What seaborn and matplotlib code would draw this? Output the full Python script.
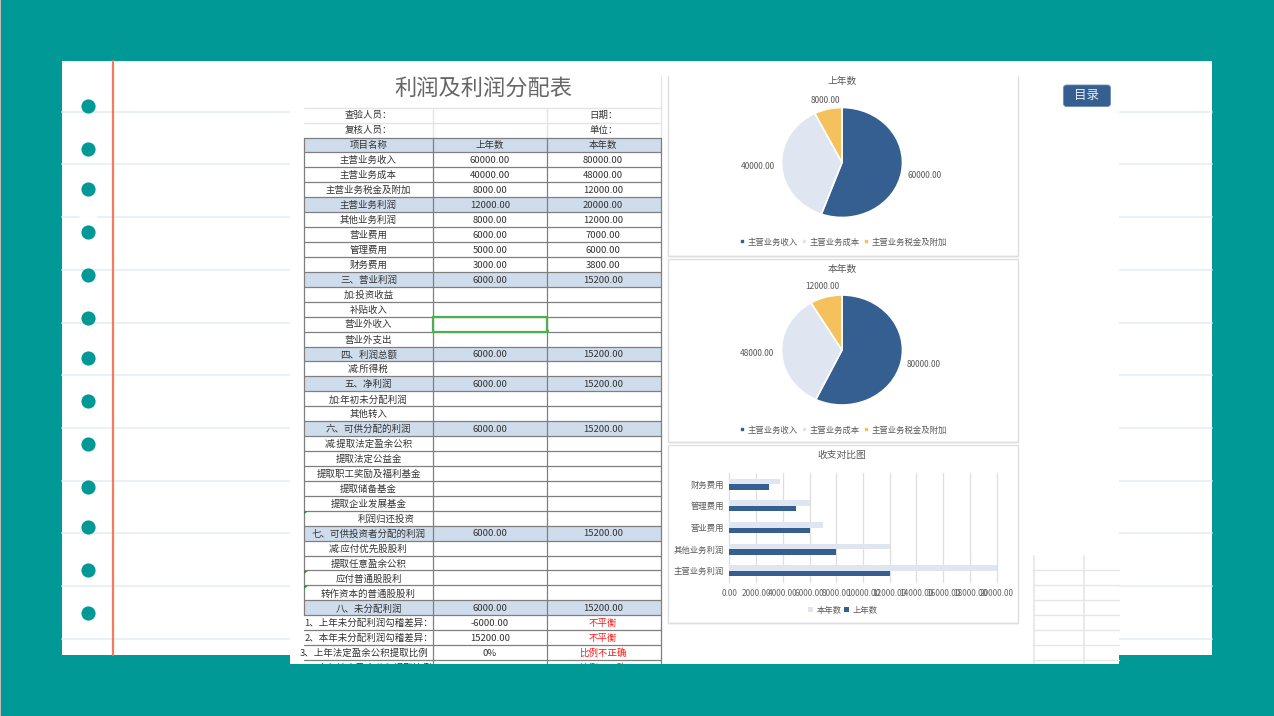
import matplotlib
matplotlib.use("Agg")
import matplotlib.pyplot as plt
from matplotlib.patches import FancyBboxPatch, Rectangle
import numpy as np
import pandas as pd
import seaborn as sns

# table content
row_names = ['项目名称', '主营业务收入', '主营业务成本', '主营业务税金及附加', '主营业务利润', '其他业务利润',
             '营业费用', '管理费用', '财务费用', '三、营业利润', '加:投资收益', '补贴收入', '营业外收入',
             '营业外支出', '四、利润总额', '减:所得税', '五、净利润', '加:年初未分配利润', '其他转入',
             '六、可供分配的利润', '减:提取法定盈余公积', '提取法定公益金', '提取职工奖励及福利基金',
             '提取储备基金', '提取企业发展基金', '利润归还投资', '七、可供投资者分配的利润', '减:应付优先股股利',
             '提取任意盈余公积', '应付普通股股利', '转作资本的普通股股利', '八、未分配利润',
             '1、上年未分配利润勾稽差异：', '2、本年未分配利润勾稽差异：', '3、上年法定盈余公积提取比例',
             '4、本年法定盈余公积提取比例']
last_year = ['上年数', '60000.00', '40000.00', '8000.00', '12000.00', '8000.00', '6000.00', '5000.00', '3000.00',
             '6000.00', '', '', '', '', '6000.00', '', '6000.00', '', '', '6000.00', '', '', '', '', '', '',
             '6000.00', '', '', '', '', '6000.00', '-6000.00', '15200.00', '0%', '']
this_year = ['本年数', '80000.00', '48000.00', '12000.00', '20000.00', '12000.00', '7000.00', '6000.00', '3800.00',
             '15200.00', '', '', '', '', '15200.00', '', '15200.00', '', '', '15200.00', '', '', '', '', '', '',
             '15200.00', '', '', '', '', '15200.00', '不平衡', '不平衡', '比例不正确', '比例不正确']
shaded_rows = [0, 4, 9, 14, 16, 19, 26, 31]
red_rows = [32, 33, 34, 35]
note_rows = [25, 29, 30]

# charts
pie_categories = ['主营业务收入', '主营业务成本', '主营业务税金及附加']
pie_last = [60000, 40000, 8000]
pie_this = [80000, 48000, 12000]
bar_categories = ['财务费用', '管理费用', '营业费用', '其他业务利润', '主营业务利润']
bar_this = [3800, 6000, 7000, 12000, 20000]
bar_last = [3000, 5000, 6000, 8000, 12000]
bar_ticks = [0, 2000, 4000, 6000, 8000, 10000, 12000, 14000, 16000, 18000, 20000]

TEAL = '#009995'
BLUE = '#355F91'
PALE = '#DFE6F1'
YELLOW = '#F4C15D'
GREY = '#595959'
W, H = 1274, 716

sns.set_theme(style='white')
plt.rcParams['font.family'] = ['Noto Sans CJK SC', 'DejaVu Sans']

fig = plt.figure(figsize=(W / 100, H / 100), dpi=100, facecolor=TEAL)


def px_axes(x0, y0, x1, y1):
    return fig.add_axes([x0 / W, 1 - y1 / H, (x1 - x0) / W, (y1 - y0) / H])


# whole figure in pixel coordinates
bg = px_axes(0, 0, W, H)
bg.set_xlim(0, W)
bg.set_ylim(H, 0)
bg.axis('off')

# notebook page
bg.add_patch(Rectangle((0, 0), 1.2, H, color='#BDBDBD', lw=0))
bg.add_patch(Rectangle((62, 61), 1150, 594, color='white', lw=0))
for i in range(11):
    y = 111.7 + 52.7 * i
    bg.plot([62, 1212], [y, y], color='#E3EFF6', lw=1.2, zorder=1)
bg.plot([80, 96], [217, 217], color='white', lw=2, zorder=1.1)
bg.plot([112.7, 112.7], [61, 655], color='#F47C5E', lw=1.6, zorder=1.2)
for y in [106, 149, 189, 232, 275, 318, 358, 401, 444, 487, 527, 570, 613]:
    bg.plot(88, y, 'o', ms=10.2, color=TEAL, mew=0, zorder=1.3)

# screenshot of the sheet on top of the page
bg.add_patch(Rectangle((290, 61), 829, 603, color='white', lw=0, zorder=2))
bg.add_patch(Rectangle((290, 664), 829, 52, color=TEAL, lw=0, zorder=10))

# sheet grid on the right
for y in [570, 585, 600, 615, 630, 645, 659.5]:
    bg.plot([1034, 1119], [y, y], color='#E6E6E6', lw=1, zorder=2.1)
for x in [1034, 1084]:
    bg.plot([x, x], [556, 664], color='#E6E6E6', lw=1.2, zorder=2.1)

# table
col_x = [304, 433, 547, 661]
col_mid = [368.5, 490, 604]
top = 137.5
row_h = 14.93
name_shift = {25: 18, 34: -4}

bg.text(483, 88, '利润及利润分配表', fontsize=16, color='#666666', ha='center', va='center', zorder=3)
for y in [107.5, 122.5]:
    bg.plot([304, 661], [y, y], color='#E4E4E4', lw=1, zorder=2.2)
for x in col_x[1:]:
    bg.plot([x, x], [107.5, top], color='#E4E4E4', lw=1, zorder=2.2)
bg.plot([661, 661], [76, 107.5], color='#E4E4E4', lw=1, zorder=2.2)
for y, left, right in [(115.8, '查验人员：', '日期：'), (130.8, '复核人员：', '单位：')]:
    bg.text(col_mid[0], y, left, fontsize=6.8, color='#333333', ha='center', va='center', zorder=3)
    bg.text(col_mid[2], y, right, fontsize=6.8, color='#333333', ha='center', va='center', zorder=3)

for i, name in enumerate(row_names):
    y0 = top + i * row_h
    if i in shaded_rows:
        bg.add_patch(Rectangle((304, y0), 357, row_h, color='#CFDCEB', lw=0, zorder=2.2))
    bg.plot([304, 661], [y0, y0], color='#7F7F7F', lw=0.9, zorder=2.4)
    ymid = y0 + row_h / 2 + 0.8
    xname = col_mid[0] + name_shift.get(i, 0)
    bg.text(xname, ymid, name, fontsize=6.8, color='#333333', ha='center', va='center', zorder=3)
    color = '#FF1A1A' if i in red_rows else '#333333'
    bg.text(col_mid[1], ymid, last_year[i], fontsize=6.8, color='#333333', ha='center', va='center', zorder=3)
    bg.text(col_mid[2] - 1, ymid, this_year[i], fontsize=6.8, color=color, ha='center', va='center', zorder=3)
    if i in note_rows:
        bg.fill([304, 308, 304], [y0 + 0.5, y0 + 0.5, y0 + 3.5], color='#2E8B3A', lw=0, zorder=3)

bottom = top + len(row_names) * row_h
for x in col_x[1:]:
    bg.plot([x, x], [top, bottom], color='#7F7F7F', lw=0.9, zorder=2.4)
bg.plot([304, 304], [top, top + 32 * row_h], color='#7F7F7F', lw=0.9, zorder=2.4)

# selected cell
y_sel = top + 12 * row_h
bg.add_patch(Rectangle((433, y_sel), 114, row_h, fill=False, ec='#4CAF50', lw=1.6, zorder=3))
bg.add_patch(Rectangle((545.5, y_sel + row_h - 1.5), 3, 3, color='#4CAF50', lw=0, zorder=3.1))

# chart frames
for y0, y1 in [(76, 255.5), (258.5, 442), (444.5, 623)]:
    bg.plot([667.5, 667.5, 1018, 1018], [y0, y1, y1, y0], color='#DEDEDE', lw=1, zorder=2.2)
    bg.plot([667.5, 1018], [y1, y1], color='#DEDEDE', lw=1, zorder=2.2)
bg.plot([667.5, 1018], [258.5, 258.5], color='#DEDEDE', lw=1, zorder=2.2)
bg.plot([667.5, 1018], [444.5, 444.5], color='#DEDEDE', lw=1, zorder=2.2)

# button
bg.add_patch(FancyBboxPatch((1063.5, 85), 47, 21.5, boxstyle='round,pad=0,rounding_size=3',
                            fc=BLUE, ec='#6C8CB2', lw=0.6, zorder=3))
bg.text(1087, 95.5, '目录', fontsize=9, color='#E8EEF5', ha='center', va='center', zorder=4)


def draw_pie(values, title, cy, dist, lift, title_y, legend_y):
    ax = px_axes(842 - 60.5, cy - 55, 842 + 60.5, cy + 55)
    ax.patch.set_visible(False)
    wedges, _ = ax.pie(values, colors=[BLUE, PALE, YELLOW], startangle=90, counterclock=False,
                       wedgeprops={'edgecolor': 'white', 'linewidth': 1.2, 'clip_on': False})
    ax.set_aspect('auto')
    ax.set_xlim(-1, 1)
    ax.set_ylim(-1, 1)
    for w, d, dy, v in zip(wedges, dist, lift, values):
        t = np.deg2rad((w.theta1 + w.theta2) / 2)
        ax.text(d * np.cos(t), d * np.sin(t) + dy, f'{v:.2f}',
                fontsize=6, color=GREY, ha='center', va='center')
    bg.text(842, title_y, title, fontsize=7, color=GREY, ha='center', va='center', zorder=3)
    ax.legend(wedges, pie_categories, ncol=3, loc='center', frameon=False, fontsize=6, labelcolor=GREY,
              bbox_to_anchor=(843.5, legend_y), bbox_transform=bg.transData, handlelength=0.55, handleheight=0.55,
              handletextpad=0.35, columnspacing=0.5, borderpad=0)


draw_pie(pie_last, '上年数', 162.5, [1.39, 1.40, 1.16], [0, 0, 0], 81, 242)
draw_pie(pie_this, '本年数', 350, [1.39, 1.40, 1.2], [0.05, 0, 0], 269, 430)

# bar chart
bars = pd.DataFrame({'项目': bar_categories * 2,
                     '金额': bar_this + bar_last,
                     '年份': ['本年数'] * 5 + ['上年数'] * 5})
ax = px_axes(729.3, 473.3, 996.7, 581.7)
ax.patch.set_visible(False)
sns.barplot(data=bars, y='项目', x='金额', hue='年份', order=bar_categories, hue_order=['本年数', '上年数'],
            palette=[PALE, BLUE], saturation=1, linewidth=0, width=0.5, gap=0, ax=ax, zorder=3)
ax.set_xlim(0, 20000)
ax.set_xticks(bar_ticks)
ax.set_xticklabels([f'{v:.2f}' for v in bar_ticks], fontsize=6, color='#666666')
ax.tick_params(axis='y', labelsize=6, labelcolor=GREY, length=0, pad=4)
ax.tick_params(axis='x', length=0, pad=5)
ax.set_xlabel('')
ax.set_ylabel('')
ax.grid(axis='x', color='#DEDEDE', lw=0.9, zorder=0)
ax.set_axisbelow(True)
for line in ax.get_xgridlines():
    line.set_clip_on(False)
sns.despine(ax=ax, top=True, right=True, bottom=True, left=True)
ax.legend(ncol=2, loc='center', frameon=False, fontsize=6, labelcolor=GREY, bbox_to_anchor=(843, 610),
          bbox_transform=bg.transData, handlelength=0.6, handleheight=0.6, handletextpad=0.4, columnspacing=0.3,
          borderpad=0, title=None)
bg.text(842, 455, '收支对比图', fontsize=7, color=GREY, ha='center', va='center', zorder=3)

fig.savefig('out.png', dpi=100, facecolor=TEAL)
